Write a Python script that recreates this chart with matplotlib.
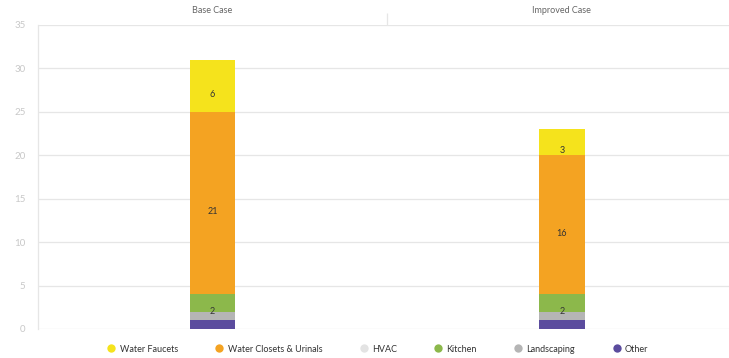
import matplotlib
matplotlib.use("Agg")
import matplotlib.pyplot as plt
from matplotlib.lines import Line2D
import numpy as np

plt.rcParams['font.family'] = ['Lato', 'DejaVu Sans']

categories = ["Base Case", "Improved Case"]
series_names = ["Other", "Landscaping", "HVAC", "Kitchen", "Water Closets & Urinals", "Water Faucets"]
other = [1.0, 1.0]
landscaping = [0.9, 0.9]
hvac = [0.0, 0.0]
kitchen = [2.1, 2.1]
water_closets = [21, 16]
water_faucets = [6, 3]
colors = ["#5b4c9e", "#b5b5b5", "#e3e3e3", "#8cb84b", "#f4a322", "#f5e31c"]
legend_order = ["Water Faucets", "Water Closets & Urinals", "HVAC", "Kitchen", "Landscaping", "Other"]
yticks = [0, 5, 10, 15, 20, 25, 30, 35]

series = [other, landscaping, hvac, kitchen, water_closets, water_faucets]

W, H = 729, 358
fig = plt.figure(figsize=(W / 100, H / 100), dpi=100)
left_px, right_px, bottom_px, top_px = 38, 736.5, 329, 25
ax = fig.add_axes([left_px / W, 1 - bottom_px / H, (right_px - left_px) / W, (bottom_px - top_px) / H])

x = np.arange(len(categories))
bottom = np.zeros(len(categories))
for name, vals, col in zip(series_names, series, colors):
    vals = np.array(vals, dtype=float)
    ax.bar(x, vals, bottom=bottom, width=0.13, color=col, edgecolor='none', zorder=3)
    for xi, v, b in zip(x, vals, bottom):
        if v >= 1.5:
            ax.annotate(f"{v:.0f}", (xi, b + v / 2), xytext=(0, -6), textcoords='offset points',
                        ha='center', va='center', fontsize=6.5, color='#333333', zorder=4)
    bottom += vals

ax.set_xlim(-0.5, 1.5)
ax.set_ylim(0, 35)
ax.set_yticks(yticks)
ax.set_yticklabels([str(t) for t in yticks])
ax.grid(axis='y', color='#e6e6e6', linewidth=0.9, zorder=0)
ax.tick_params(axis='y', length=0, labelsize=7, labelcolor='#c8c8c8', pad=9)
for s in ['top', 'right', 'bottom']:
    ax.spines[s].set_visible(False)
ax.spines['left'].set_color('#e6e6e6')
ax.spines['left'].set_linewidth(0.9)

ax.xaxis.tick_top()
ax.set_xticks(x)
ax.set_xticklabels(categories)
ax.tick_params(axis='x', which='major', length=0, labelsize=6.5, labelcolor='#666666', pad=7.5)
ax.set_xticks([0.5], minor=True)
ax.tick_params(axis='x', which='minor', length=9, color='#e6e6e6', width=0.9, top=True, bottom=False)

handles = []
for name in legend_order:
    col = colors[series_names.index(name)]
    handles.append(Line2D([0], [0], marker='o', linestyle='none', markersize=6,
                          markerfacecolor=col, markeredgecolor='none'))
fig.legend(handles, legend_order, loc='center', bbox_to_anchor=(378 / W, 1 - 349 / H), ncol=6,
           frameon=False, fontsize=6.5, handlelength=0.8, handletextpad=0.5, columnspacing=4.2,
           labelcolor='#333333')

fig.savefig("out.png", dpi=100)
